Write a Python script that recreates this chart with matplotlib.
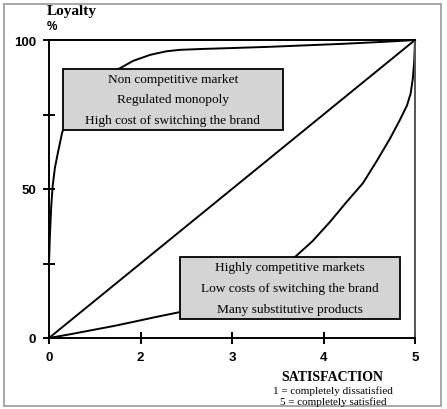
import numpy as np
import matplotlib.pyplot as plt
from matplotlib.patches import Rectangle

# curves (x in 0..5 axis units, y in loyalty %)
upper_x = [0, 0.01, 0.03, 0.05, 0.08, 0.12, 0.18, 0.25, 0.35, 0.5, 0.7, 0.93, 1.15,
           1.38, 1.6, 1.79, 2.1, 2.5, 3.0, 3.5, 4.0, 4.5, 4.8, 5.0]
upper_y = [25, 33, 44, 51, 57, 62, 69, 73, 77, 81, 86, 90, 93,
           95, 96.2, 96.7, 97, 97.3, 97.7, 98.2, 98.7, 99.3, 99.7, 100]
lower_x = [0, 0.3, 0.6, 0.9, 1.15, 1.45, 1.75, 2.1, 2.4, 2.7, 3.0, 3.33, 3.6, 3.84,
           4.06, 4.29, 4.48, 4.66, 4.79, 4.89, 4.94, 4.97, 4.99, 5.0]
lower_y = [0, 1.3, 2.7, 4.1, 5.4, 7, 8.5, 10.5, 13, 16, 20, 26.5, 32.5, 39,
           45.5, 52, 59.5, 67, 73, 78, 82, 87, 93, 100]
diag_x = [0, 5]
diag_y = [0, 100]

xtick_pos = [0, 1.25, 2.5, 3.75, 5]
xtick_labels = ['0', '2', '3', '4', '5']
ytick_pos = [0, 25, 50, 75, 100]
ytick_labels = ['0', '', '50', '', '100']

box1_lines = ['Non competitive market', 'Regulated monopoly', 'High cost of switching the brand']
box2_lines = ['Highly competitive markets', 'Low costs of switching the brand', 'Many substitutive products']

W, H = 447, 410
fig = plt.figure(figsize=(W / 100, H / 100), dpi=100)
ax = fig.add_axes([49 / W, (H - 339) / H, 366 / W, 298 / H])

serif = 'Liberation Serif'
sans = 'Liberation Sans'

ax.plot(diag_x, diag_y, color='black', lw=1.4, clip_on=False)
ax.plot(upper_x, upper_y, color='black', lw=1.4, clip_on=False)
ax.plot(lower_x, lower_y, color='black', lw=1.4, clip_on=False)

ax.set_xlim(0, 5)
ax.set_ylim(0, 100)
ax.set_xticks(xtick_pos)
ax.set_xticklabels(xtick_labels)
ax.set_yticks(ytick_pos)
ax.set_yticklabels(ytick_labels)
ax.tick_params(direction='inout', length=9, width=1.4, labelsize=9.5, pad=5)
for lab in ax.get_xticklabels() + ax.get_yticklabels():
    lab.set_fontfamily(sans)
    lab.set_fontweight('bold')
for sp in ax.spines.values():
    sp.set_linewidth(1.4)
ax.spines['right'].set_color('#555555')

# text boxes
def add_box(x0, y0, x1, y1, lines):
    ax.add_patch(Rectangle((x0, y0), x1 - x0, y1 - y0, transform=ax.transAxes,
                           facecolor='#d4d4d4', edgecolor='black', lw=1.3, zorder=3))
    cx = (x0 + x1) / 2
    n = len(lines)
    for i, t in enumerate(lines):
        cy = y1 - (y1 - y0) * (i + 0.5) / n
        ax.text(cx, cy, t, transform=ax.transAxes, ha='center', va='center',
                fontsize=9.6, family=serif, zorder=4)

add_box(0.038, 0.698, 0.639, 0.903, box1_lines)
add_box(0.358, 0.064, 0.959, 0.272, box2_lines)

# axis titles
fig.text(47 / W, 1 - 12 / H, 'Loyalty', fontsize=11, fontweight='bold', family=serif,
         ha='left', va='center')
fig.text(47 / W, 1 - 27 / H, '%', fontsize=8.5, fontweight='bold', family=sans,
         ha='left', va='center')
fig.text(332 / W, 1 - 378 / H, 'SATISFACTION', fontsize=10, fontweight='bold', family=serif,
         ha='center', va='center')
fig.text(333 / W, 1 - 391 / H, '1 = completely dissatisfied', fontsize=8, family=serif,
         ha='center', va='center')
fig.text(333 / W, 1 - 402 / H, '5 = completely satisfied', fontsize=8, family=serif,
         ha='center', va='center')

# outer frame
fig.add_artist(Rectangle((4 / W, 1 - 407 / H), 437 / W, 402 / H, transform=fig.transFigure,
                         fill=False, edgecolor='#999999', lw=1.2))

fig.savefig('out.png', dpi=100)
